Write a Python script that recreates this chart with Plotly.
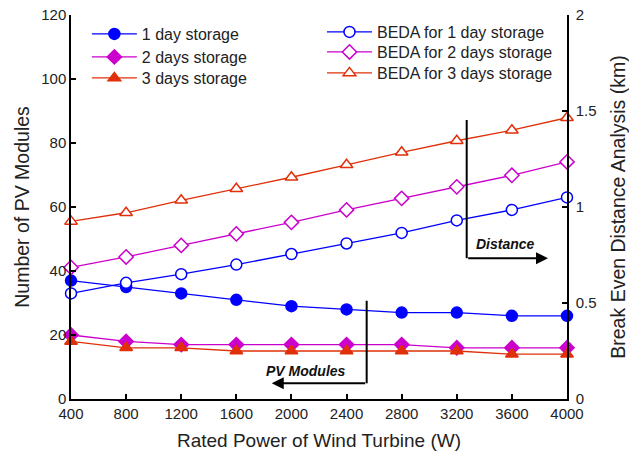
import plotly.graph_objects as go

power = [400, 800, 1200, 1600, 2000, 2400, 2800, 3200, 3600, 4000]
pv_1day = [37, 35, 33, 31, 29, 28, 27, 27, 26, 26]
pv_2day = [20, 18, 17, 17, 17, 17, 17, 16, 16, 16]
pv_3day = [18, 16, 16, 15, 15, 15, 15, 15, 14, 14]
beda_1day = [0.55, 0.605, 0.65, 0.70, 0.755, 0.81, 0.865, 0.93, 0.985, 1.05]
beda_2day = [0.685, 0.74, 0.80, 0.86, 0.92, 0.985, 1.045, 1.105, 1.165, 1.235]
beda_3day = [0.925, 0.97, 1.035, 1.095, 1.155, 1.22, 1.285, 1.345, 1.40, 1.465]

BLUE = "#0000FF"
MAG = "#CC00CC"
RED = "#E0300A"
FONT = "Liberation Sans, Arial, sans-serif"

fig = go.Figure()

def add(y, name, color, symbol, filled, axis, legend):
    fig.add_trace(go.Scatter(
        x=power, y=y, name=name, mode="lines+markers",
        line=dict(color=color, width=1.3),
        marker=dict(symbol=symbol, size=11,
                    color=color if filled else "white",
                    line=dict(color=color, width=1.5)),
        yaxis=axis, legend=legend, cliponaxis=False,
    ))

add(pv_1day, "1 day storage", BLUE, "circle", True, "y", "legend")
add(pv_2day, "2 days storage", MAG, "diamond", True, "y", "legend2")
add(pv_3day, "3 days storage", RED, "triangle-up", True, "y", "legend3")
add(beda_1day, "BEDA for 1 day storage", BLUE, "circle", False, "y2", "legend4")
add(beda_2day, "BEDA for 2 days storage", MAG, "diamond", False, "y2", "legend5")
add(beda_3day, "BEDA for 3 days storage", RED, "triangle-up", False, "y2", "legend6")

axis_common = dict(showline=True, linecolor="black", linewidth=1.5,
                   ticks="inside", ticklen=5, tickwidth=1.5, tickcolor="black",
                   showgrid=False, zeroline=False, automargin=False,
                   ticklabeloverflow="allow",
                   tickfont=dict(family=FONT, size=15, color="#222"))

def leg(x, y):
    return dict(x=x, y=y, xanchor="left", yanchor="middle",
                bgcolor="rgba(0,0,0,0)", font=dict(size=16, family=FONT),
                itemwidth=45)

W, H = 629, 457
fig.update_layout(
    width=W, height=H,
    margin=dict(l=71, r=62, t=15, b=58, autoexpand=False),
    paper_bgcolor="white", plot_bgcolor="white",
    font=dict(family=FONT, size=15, color="#222"),
    xaxis=dict(range=[400, 4000], tickmode="array", tickvals=power,
               title=dict(text="Rated Power of Wind Turbine (W)",
                          font=dict(size=19), standoff=13),
               **axis_common),
    yaxis=dict(range=[0, 120], dtick=20,
               title=dict(text="Number of PV Modules", font=dict(size=19.5), standoff=6),
               **axis_common),
    yaxis2=dict(range=[0, 2], dtick=0.5, overlaying="y", side="right",
                ticklabelstandoff=4,
                title=dict(text="Break Even Distance Analysis (km)",
                           font=dict(size=19.5), standoff=21),
                **axis_common),
    legend=leg(0.032, 0.9505),
    legend2=leg(0.032, 0.8906),
    legend3=leg(0.032, 0.8359),
    legend4=leg(0.506, 0.9557),
    legend5=leg(0.506, 0.9036),
    legend6=leg(0.506, 0.849),
    showlegend=True,
)

# PV Modules arrow
fig.add_shape(type="line", xref="x", yref="y", x0=2546, x1=2546, y0=30.7, y1=4.9,
              line=dict(color="black", width=2))
fig.add_annotation(x=1857, y=4.9, ax=2546, ay=4.9, xref="x", yref="y",
                   axref="x", ayref="y", showarrow=True, arrowhead=2,
                   arrowsize=1.2, arrowwidth=2, arrowcolor="black", text="")
fig.add_annotation(x=2106, y=8.9, xref="x", yref="y", showarrow=False,
                   text="<b><i>PV Modules</i></b>",
                   font=dict(size=14, family=FONT, color="#111"))

# Distance arrow
fig.add_shape(type="line", xref="x", yref="y", x0=3272, x1=3272, y0=87.2, y1=44,
              line=dict(color="black", width=2))
fig.add_annotation(x=3862, y=44, ax=3272, ay=44, xref="x", yref="y",
                   axref="x", ayref="y", showarrow=True, arrowhead=2,
                   arrowsize=1.2, arrowwidth=2, arrowcolor="black", text="")
fig.add_annotation(x=3557, y=48.4, xref="x", yref="y", showarrow=False,
                   text="<b><i>Distance</i></b>",
                   font=dict(size=14, family=FONT, color="#111"))

fig.write_html("out.html", config={"displayModeBar": False},
               post_script="document.body.style.margin='0px';")
